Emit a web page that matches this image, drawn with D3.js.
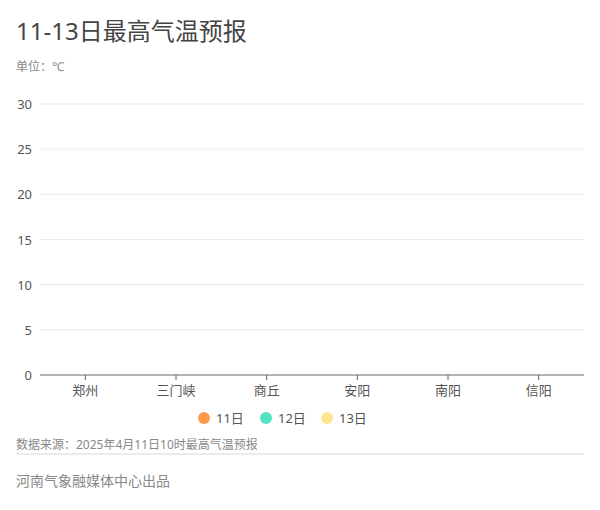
<!DOCTYPE html>
<html lang="zh">
<head>
<meta charset="UTF-8">
<title>11-13日最高气温预报</title>
<style>
  body { margin: 0; background: #fff; }
  text { font-family: "Noto Sans", "Noto Sans CJK SC", sans-serif; }
</style>
</head>
<body>
<script src="https://d3js.org/d3.v7.min.js"></script>
<script>
// 数据
var cities = ["郑州", "三门峡", "商丘", "安阳", "南阳", "信阳"];
var days = ["11日", "12日", "13日"];
var day11 = [0, 0, 0, 0, 0, 0];   // 图中柱子高度为0
var day12 = [0, 0, 0, 0, 0, 0];
var day13 = [0, 0, 0, 0, 0, 0];
var yTicks = [0, 5, 10, 15, 20, 25, 30];
var colors = ["#ff9a4d", "#52e3c2", "#ffe58f"];

var W = 600, H = 510;
var svg = d3.select("body").append("svg")
    .attr("width", W).attr("height", H);

// 标题
svg.append("text").attr("x", 16).attr("y", 40)
    .attr("font-size", 24).attr("fill", "#444").text("11-13日最高气温预报");
svg.append("text").attr("x", 16).attr("y", 71)
    .attr("font-size", 12).attr("fill", "#888").text("单位：℃");

var x = d3.scaleBand().domain(cities).range([40, 584]);
var x1 = d3.scaleBand().domain(days).range([0, x.bandwidth()]).paddingInner(0.1).paddingOuter(0.8);
var y = d3.scaleLinear().domain([0, 30]).range([375, 104]);

// 网格线
svg.append("g").selectAll("line").data(yTicks.slice(1)).enter().append("line")
    .attr("x1", 40).attr("x2", 584)
    .attr("y1", function(d) { return y(d); }).attr("y2", function(d) { return y(d); })
    .attr("stroke", "#e2eef0").attr("stroke-width", 1);

// y轴标签
svg.append("g").selectAll("text").data(yTicks).enter().append("text")
    .attr("x", 32).attr("y", function(d) { return y(d) + 5; })
    .attr("text-anchor", "end").attr("font-size", 13).attr("fill", "#555")
    .text(function(d) { return d; });

// 柱子
var series = [day11, day12, day13];
var g = svg.append("g");
series.forEach(function(vals, i) {
  g.selectAll(".b" + i).data(vals).enter().append("rect")
      .attr("class", "b" + i)
      .attr("x", function(d, j) { return x(cities[j]) + x1(days[i]); })
      .attr("width", x1.bandwidth())
      .attr("y", function(d) { return y(d); })
      .attr("height", function(d) { return y(0) - y(d); })
      .attr("fill", colors[i]);
});

// x轴
var xa = svg.append("g").attr("transform", "translate(0,375)")
    .call(d3.axisBottom(x).tickSize(5).tickPadding(6));
xa.select(".domain").attr("stroke", "#666").attr("d", "M40,0H584");
xa.selectAll(".tick line").attr("stroke", "#666");
xa.selectAll(".tick text").attr("font-size", 13).attr("fill", "#555")
    .attr("font-family", "Noto Sans CJK SC");

// 图例
var legX = [204, 266, 327];
var leg = svg.append("g").selectAll("g").data(days).enter().append("g")
    .attr("transform", function(d, i) { return "translate(" + legX[i] + ",418)"; });
leg.append("circle").attr("r", 6).attr("fill", function(d, i) { return colors[i]; });
leg.append("text").attr("x", 12).attr("y", 5).attr("font-size", 13).attr("fill", "#555")
    .text(function(d) { return d; });

// 底部
svg.append("text").attr("x", 16).attr("y", 449)
    .attr("font-size", 12).attr("fill", "#888").text("数据来源：2025年4月11日10时最高气温预报");
svg.append("line").attr("x1", 16).attr("x2", 584).attr("y1", 454).attr("y2", 454)
    .attr("stroke", "#ebebeb").attr("stroke-width", 2);
svg.append("text").attr("x", 16).attr("y", 486)
    .attr("font-size", 14).attr("fill", "#888").text("河南气象融媒体中心出品");
</script>
</body>
</html>
